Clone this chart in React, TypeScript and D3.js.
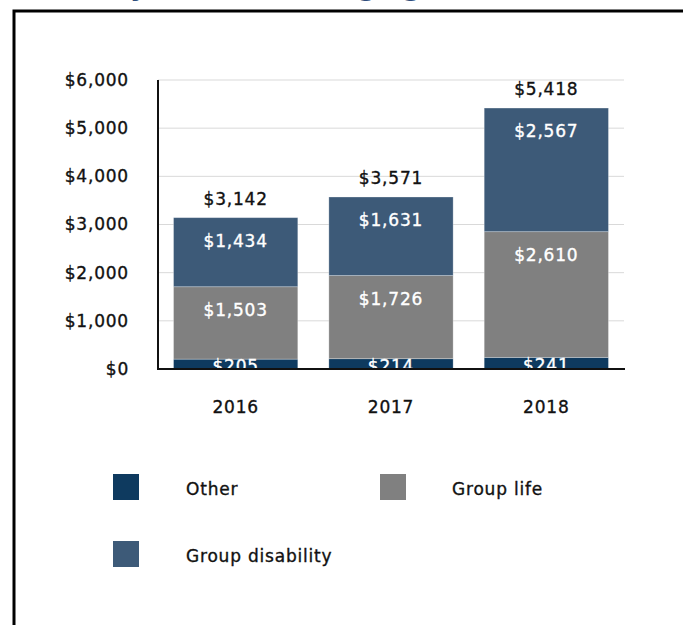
import React from 'react';
import * as d3 from 'd3';

const years = ['2016', '2017', '2018'];
const other = [205, 214, 241];
const groupLife = [1503, 1726, 2610];
const groupDisability = [1434, 1631, 2567];
const totals = [3142, 3571, 5418];
const yTicks = [0, 1000, 2000, 3000, 4000, 5000, 6000];

const seriesNames = ['Other', 'Group life', 'Group disability'];
const seriesColors = ['#0e3a5f', '#808080', '#3d5a78'];

const W = 683;
const H = 625;
const margin = { top: 80, right: 59, bottom: 256, left: 158 };
const FONT = '"DejaVu Sans", sans-serif';
// a thin stroke thickens DejaVu a little, closer to the medium weight of the original
const textStyle = { fontSize: 17, letterSpacing: 0.8, strokeWidth: 0.35 };

const App = () => {
  const plotW = W - margin.left - margin.right;
  const plotH = H - margin.top - margin.bottom;

  const x = d3.scaleBand().domain(years).range([0, plotW]).paddingInner(0.2).paddingOuter(0.1);
  const y = d3.scaleLinear().domain([0, 6000]).range([plotH, 0]);

  const rows = years.map((yr, i) => ({
    year: yr,
    Other: other[i],
    'Group life': groupLife[i],
    'Group disability': groupDisability[i],
  }));
  const stacked = d3.stack<any>().keys(seriesNames)(rows);
  const fmt = (v: number) => '$' + d3.format(',')(v);

  return (
    <svg width={W} height={H} style={{ position: 'absolute', left: 0, top: 0 }} fontFamily={FONT}>
      {/* title, cut off at the top of the image */}
      <text x={4} y={-5} fontSize={27} fontWeight="bold" fill="#2f4e7c">Disability drives earnings growth</text>
      {/* frame */}
      <path d={`M14,${H + 5} V11 H${W + 5}`} fill="none" stroke="#000" strokeWidth={3} />

      <defs>
        <clipPath id="plot">
          <rect x={0} y={-40} width={plotW} height={plotH + 40} />
        </clipPath>
      </defs>

      <g transform={`translate(${margin.left},${margin.top})`}>
        {yTicks.map(t => (
          <g key={t}>
            {t > 0 && <line x1={0} x2={plotW} y1={y(t)} y2={y(t)} stroke="#d9d9d9" strokeWidth={1} />}
            <text x={-29} y={y(t)} dy="0.35em" textAnchor="end" {...textStyle} fill="#111" stroke="#111">{fmt(t)}</text>
          </g>
        ))}

        {stacked.map((s, si) => (
          <g key={s.key}>
            {s.map((d, i) => (
              <rect key={i} x={x(years[i])} width={x.bandwidth()} y={y(d[1])} height={y(d[0]) - y(d[1])}
                fill={seriesColors[si]} stroke="#ffffff" strokeOpacity={0.35} strokeWidth={0.8} />
            ))}
          </g>
        ))}

        <g clipPath="url(#plot)">
          {stacked.map(s => (
            <g key={s.key}>
              {s.map((d, i) => {
                const top = y(d[1]);
                const h = y(d[0]) - top;
                const cy = top + Math.min(23, h / 2 + 2);
                return (
                  <text key={i} x={(x(years[i]) as number) + x.bandwidth() / 2} y={cy} dy="0.35em"
                    textAnchor="middle" {...textStyle} fill="#fff" stroke="#fff">{fmt(d[1] - d[0])}</text>
                );
              })}
            </g>
          ))}
        </g>

        {totals.map((t, i) => (
          <text key={i} x={(x(years[i]) as number) + x.bandwidth() / 2} y={y(t) - 19} dy="0.35em"
            textAnchor="middle" {...textStyle} fill="#111" stroke="#111">{fmt(t)}</text>
        ))}

        <line x1={0} x2={0} y1={0} y2={plotH + 1} stroke="#111" strokeWidth={2} />
        <line x1={-1} x2={plotW + 1} y1={plotH} y2={plotH} stroke="#111" strokeWidth={2} />

        {years.map(yr => (
          <text key={yr} x={(x(yr) as number) + x.bandwidth() / 2} y={plotH + 38} dy="0.35em"
            textAnchor="middle" {...textStyle} fill="#111" stroke="#111">{yr}</text>
        ))}
      </g>

      {/* legend */}
      {seriesNames.map((name, i) => {
        const lx = i === 1 ? 380 : 113;
        const ly = i === 2 ? 541 : 474;
        const tx = i === 1 ? 452 : 186;
        return (
          <g key={name}>
            <rect x={lx} y={ly} width={26} height={26} fill={seriesColors[i]} />
            <text x={tx} y={ly + 15} dy="0.35em" {...textStyle} fill="#111" stroke="#111">{name}</text>
          </g>
        );
      })}
    </svg>
  );
};

export default App;
